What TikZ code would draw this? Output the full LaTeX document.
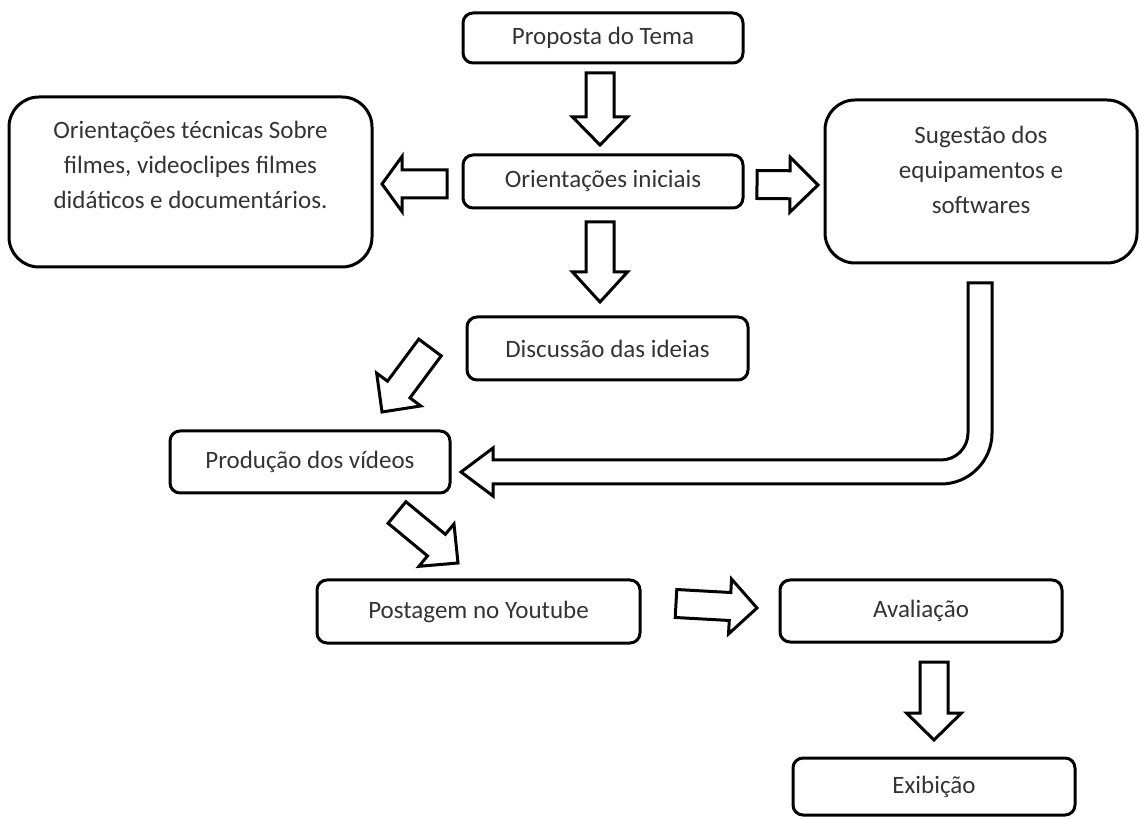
\documentclass[tikz,border=0pt]{standalone}
\usepackage{fontspec}
\setmainfont{Carlito}
\usetikzlibrary{calc}

\tikzset{
  caixa/.style={draw, line width=1.5pt, rounded corners=5pt, inner sep=0pt, align=center, text=black!80, font=\fontsize{12.5}{17.5}\selectfont},
  caixagrande/.style={caixa, rounded corners=15pt},
  seta/.style={draw, line width=1.5pt, fill=white, line join=miter},
}
\newcommand{\setagrossa}[3]{%
  \coordinate (hb) at ($(#2)!#3!(#1)$);
  \draw[seta] ($(#1)!7pt!90:(#2)$) -- ($(hb)!7pt!90:(#2)$) -- ($(hb)!13.75pt!90:(#2)$) -- (#2)
    -- ($(hb)!13.75pt!-90:(#2)$) -- ($(hb)!7pt!-90:(#2)$) -- ($(#1)!7pt!-90:(#2)$) -- cycle;
}

\begin{document}
\begin{tikzpicture}[x=0.5pt, y=-0.5pt]
        \useasboundingbox (0,0) rectangle (1140,817);
        \node[caixa, minimum width=140pt, minimum height=25pt] (tema) at (603,38) {Proposta do Tema};
        \node[caixa, minimum width=140pt, minimum height=26.5pt] (ini) at (603,181.5) {Orientações iniciais};
        \node[caixagrande, minimum width=181.5pt, minimum height=85pt] (tec) at (190.5,182) {Orientações técnicas Sobre\\filmes, videoclipes filmes\\didáticos e documentários.\\ \mbox{}};
        \node[caixagrande, minimum width=156pt, minimum height=81.5pt] (sug) at (981,181.5) {Sugestão dos\\equipamentos e\\softwares\\[-6pt] \mbox{}};
        \node[caixa, minimum width=140.5pt, minimum height=31.5pt] (disc) at (607.5,348.5) {Discussão das ideias};
        \node[caixa, minimum width=140pt, minimum height=31pt] (prod) at (310,462) {Produção dos vídeos};
        \node[caixa, minimum width=161.5pt, minimum height=31.5pt] (post) at (478.5,611.5) {Postagem no Youtube};
        \node[caixa, minimum width=141pt, minimum height=31pt] (aval) at (921,611) {Avaliação};
        \node[caixa, minimum width=141pt, minimum height=28.5pt] (exib) at (934,786.5) {Exibição};

        \coordinate (a1) at (600,73);   \coordinate (b1) at (600,145);
        \coordinate (a2) at (447,184);  \coordinate (b2) at (382,184);
        \coordinate (a3) at (757,184.5);\coordinate (b3) at (818,185);
        \coordinate (a4) at (600,222);  \coordinate (b4) at (600,302);
        \coordinate (a5) at (430,347.5);\coordinate (b5) at (382,412);
        \coordinate (a6) at (397,512.5);\coordinate (b6) at (458,563);
        \coordinate (a7) at (676,603.5);\coordinate (b7) at (757,608);
        \coordinate (a8) at (934,662);  \coordinate (b8) at (934,740);
        \setagrossa{a1}{b1}{14pt}
        \setagrossa{a2}{b2}{10pt}
        \setagrossa{a3}{b3}{14pt}
        \setagrossa{a4}{b4}{15pt}
        \setagrossa{a5}{b5}{14pt}
        \setagrossa{a6}{b6}{14pt}
        \setagrossa{a7}{b7}{13.5pt}
        \setagrossa{a8}{b8}{13.5pt}

        \draw[seta] (968,283) -- (992,283) -- (992,433) arc[start angle=0, end angle=-90, radius=25.5pt]
          -- (493,484) -- (493,496) -- (461,472) -- (493,448) -- (493,460) -- (941,460)
          arc[start angle=-90, end angle=0, radius=13.5pt] -- cycle;
      \end{tikzpicture}
\end{document}
